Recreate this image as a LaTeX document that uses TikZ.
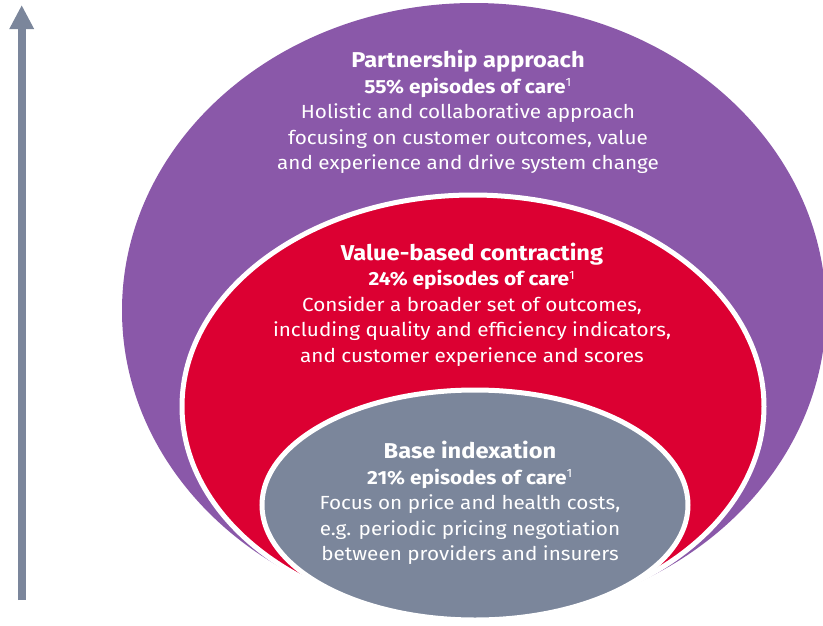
\documentclass[tikz,border=0pt]{standalone}
\usepackage{fontspec}
\setmainfont{Fira Sans}[FakeStretch=1.09, BoldFeatures={FakeStretch=1.1}]
\usetikzlibrary{arrows.meta}
\definecolor{purp}{HTML}{8A58A9}
\definecolor{crimson}{HTML}{DC0032}
\definecolor{slate}{HTML}{7B869B}
\tikzset{
  blocktext/.style={text=white, align=center, font=\fontsize{19}{25.5}\selectfont, inner sep=0pt},
  ring/.style={draw=white, line width=5pt}
}
\newcommand{\fn}{\textsuperscript{\fontsize{12}{12}\selectfont 1}}
\newcommand{\ttl}[1]{{\fontsize{21.5}{25.5}\selectfont\bfseries #1}}
\begin{document}
\begin{tikzpicture}[x=1pt,y=-1pt]
\useasboundingbox (0,0) rectangle (823,625);
\clip (0,0) rectangle (823,625);
\fill[purp] (474,310.5) ellipse [x radius=352, y radius=307.5];
\filldraw[fill=crimson, ring] (473,406.5) ellipse [x radius=291, y radius=211.5];
\filldraw[fill=slate, ring] (475,505) ellipse [x radius=213, y radius=115];
\coordinate (arrowbase) at (21.7,600);
\coordinate (arrowtip) at (21.7,5);
\draw[slate, line width=8pt, -{Triangle[width=23pt,length=24pt]}] (arrowbase) -- (arrowtip);
\node[blocktext] (partner) at (468,112) {\ttl{Partnership approach}\\ \textbf{55\% episodes of care}\fn\\ Holistic and collaborative approach\\ focusing on customer outcomes, value\\ and experience and drive system change};
\node[blocktext] (value) at (472,304.5) {\ttl{Value-based contracting}\\ \textbf{24\% episodes of care}\fn\\ Consider a broader set of outcomes,\\ including quality and efficiency indicators,\\ and customer experience and scores};
\node[blocktext] (base) at (470,503) {\ttl{Base indexation}\\ \textbf{21\% episodes of care}\fn\\ Focus on price and health costs,\\ e.g. periodic pricing negotiation\\ between providers and insurers};
\end{tikzpicture}
\end{document}
